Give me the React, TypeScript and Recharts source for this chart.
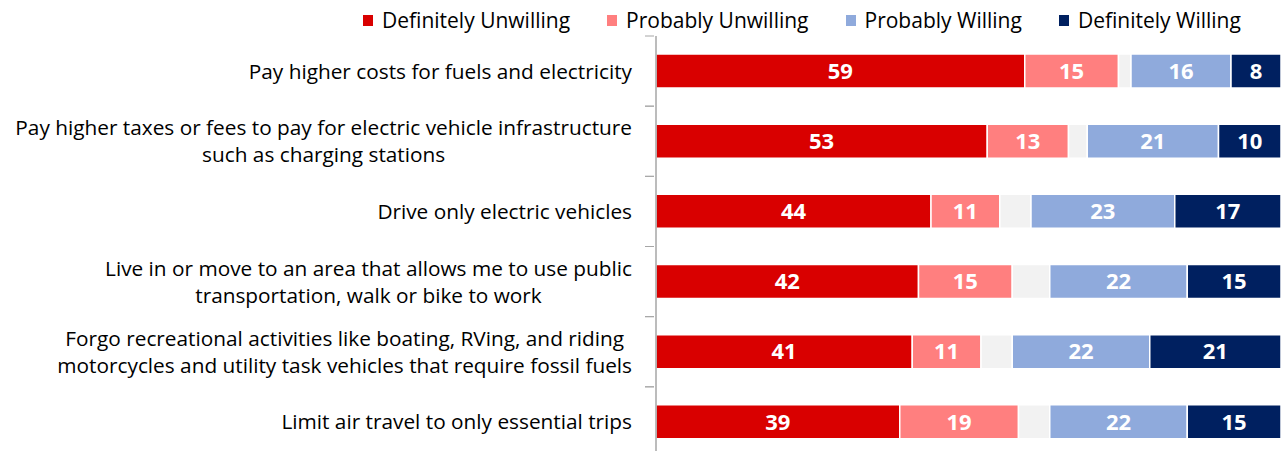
import React from "react";
import { BarChart, Bar, XAxis, YAxis, Legend, LabelList, ReferenceLine } from "recharts";

const categories = [
  ["Pay higher costs for fuels and electricity"],
  ["Pay higher taxes or fees to pay for electric vehicle infrastructure", "such as charging stations"],
  ["Drive only electric vehicles"],
  ["Live in or move to an area that allows me to use public", "transportation, walk or bike to work"],
  ["Forgo recreational activities like boating, RVing, and riding", "motorcycles and utility task vehicles that require fossil fuels"],
  ["Limit air travel to only essential trips"],
];

const definitelyUnwilling = [59, 53, 44, 42, 41, 39];
const probablyUnwilling = [15, 13, 11, 15, 11, 19];
const notSure = [2, 3, 5, 6, 5, 5];
const probablyWilling = [16, 21, 23, 22, 22, 22];
const definitelyWilling = [8, 10, 17, 15, 21, 15];

const FONT = "'Open Sans', sans-serif";
const AXIS_GREY = "#A6A6A6";

const series = [
  { key: "du", name: "Definitely Unwilling", color: "#D90000", label: true },
  { key: "pu", name: "Probably Unwilling", color: "#FF7F7F", label: true },
  { key: "ns", name: "Not sure", color: "#F2F2F2", label: false },
  { key: "pw", name: "Probably Willing", color: "#8FAADC", label: true },
  { key: "dw", name: "Definitely Willing", color: "#002060", label: true },
];

const data = categories.map((lines, i) => ({
  name: lines.join(" "),
  lines,
  du: definitelyUnwilling[i],
  pu: probablyUnwilling[i],
  ns: notSure[i],
  pw: probablyWilling[i],
  dw: definitelyWilling[i],
}));

let ctx: CanvasRenderingContext2D | null = null;
function measure(text: string, size: number) {
  if (!ctx) ctx = document.createElement("canvas").getContext("2d");
  if (!ctx) return text.length * size * 0.5;
  ctx.font = `${size}px ${FONT}`;
  return ctx.measureText(text).width;
}

// category label block (right aligned, lines centred) + tick marks on band boundaries
function CategoryTick(props: any) {
  const { x, y, payload, height, visibleTicksCount } = props;
  const row = data.find(d => d.name === payload.value);
  const lines = row ? row.lines : [payload.value];
  const size = 20.8;
  const axisX = x;
  const right = axisX - 22;
  const blockW = Math.max(...lines.map(l => measure(l, size)));
  const cx = right - blockW / 2;
  const lh = 27;
  const start = y - ((lines.length - 1) * lh) / 2;
  const band = (Number(height) || 421) / (visibleTicksCount || 6);
  return (
    <g>
      <line x1={axisX - 9} x2={axisX} y1={y - band / 2} y2={y - band / 2} stroke={AXIS_GREY} />
      <line x1={axisX - 9} x2={axisX} y1={y + band / 2} y2={y + band / 2} stroke={AXIS_GREY} />
      {lines.map((l, i) => (
        <text key={i} x={cx} y={start + i * lh} dy="0.36em" textAnchor="middle"
          fontFamily={FONT} fontSize={size} fill="#000">
          {l}
        </text>
      ))}
    </g>
  );
}

function LegendContent() {
  const items = series.filter(s => s.label);
  return (
    <div style={{ height: 36, position: "relative" }}>
      <div style={{ position: "absolute", left: 363, top: 6, display: "flex", gap: 37, fontFamily: FONT, fontSize: 21, color: "#000", whiteSpace: "nowrap" }}>
        {items.map(s => (
          <div key={s.key} style={{ display: "flex", alignItems: "center", gap: 9 }}>
            <span style={{ width: 10, height: 11, background: s.color, display: "inline-block" }} />
            <span>{s.name}</span>
          </div>
        ))}
      </div>
    </div>
  );
}

export default function App() {
  return (
    <div style={{ position: "absolute", left: 0, top: 0, width: 1281, height: 451, overflow: "hidden", background: "#fff" }}>
      <BarChart width={1281} height={460} data={data} layout="vertical"
        margin={{ top: 0, right: 0, bottom: 3, left: 0 }} barSize={34}>
        <XAxis type="number" domain={[0, 100]} hide />
        <YAxis type="category" dataKey="name" width={656}
          axisLine={false} tickLine={false} tick={<CategoryTick />} tickSize={0} interval={0} />
        <Legend verticalAlign="top" align="left" content={<LegendContent />}
          wrapperStyle={{ top: 0, left: 0, width: 1281 }} />
        {series.map(s => (
          <Bar key={s.key} dataKey={s.key} name={s.name} stackId="a"
            fill={s.color} stroke="#fff" strokeWidth={1.5} isAnimationActive={false}>
            {s.label && (
              <LabelList dataKey={s.key} position="center" fill="#fff"
                fontFamily={FONT} fontWeight="bold" fontSize={22} />
            )}
          </Bar>
        ))}
        <ReferenceLine x={0} stroke={AXIS_GREY} strokeWidth={1.5} />
      </BarChart>
    </div>
  );
}
